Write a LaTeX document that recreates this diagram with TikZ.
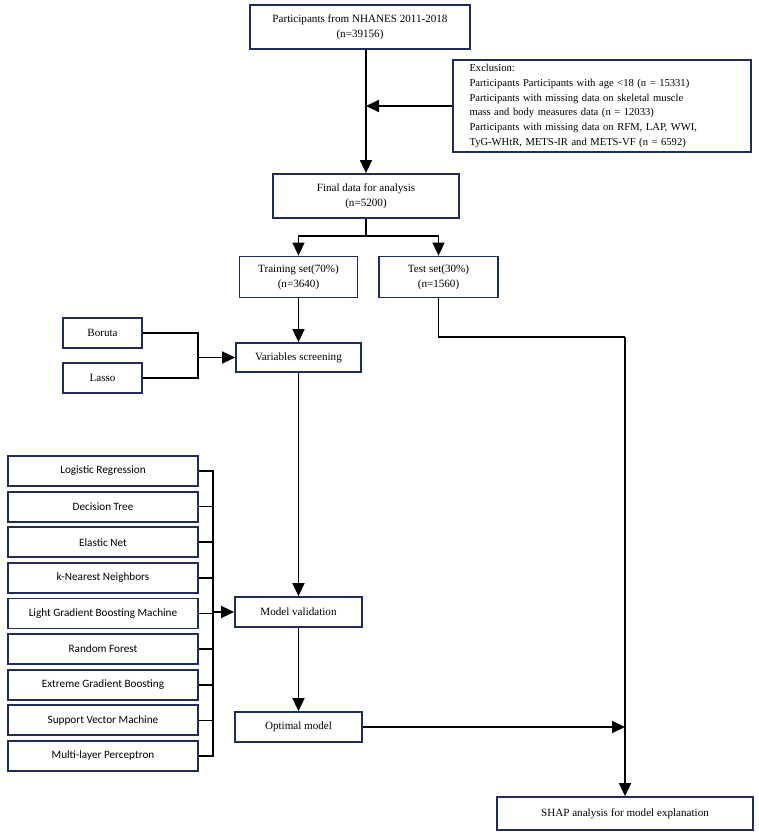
\documentclass[tikz,border=0pt]{standalone}
\usepackage{fontspec}
\setmainfont{Liberation Serif}
\newfontfamily\calib{Carlito}
\usetikzlibrary{arrows.meta}
\definecolor{navy}{HTML}{1F2D5C}
\begin{document}
\begin{tikzpicture}[x=1pt,y=-1pt,
 box/.style={draw=navy,line width=1.8pt,fill=white,inner sep=0pt,align=center,font=\fontsize{11.1}{15}\selectfont},
 lbox/.style={box,font=\calib\fontsize{11.2}{13}\selectfont,minimum width=190pt,minimum height=30pt},
 conn/.style={line width=1.7pt,black},
 arr/.style={conn,-{Triangle[length=13pt,width=12pt]}}]
\useasboundingbox (0,0) rectangle (759,835);
\node[box,minimum width=220pt,minimum height=44pt] (top) at (360,27) {Participants from NHANES 2011-2018\\(n=39156)};
\node[box,minimum width=298pt,minimum height=92pt,text width=265pt,align=left,font=\fontsize{10.6}{14.7}\selectfont] (excl) at (602,106) {Exclusion:\\Participants Participants with age <18 (n = 15331)\\Participants with missing data on skeletal muscle\\mass and body measures data (n = 12033)\\Participants with missing data on RFM, LAP, WWI,\\TyG-WHtR, METS-IR and METS-VF (n = 6592)};
\node[box,minimum width=186pt,minimum height=44pt] (final) at (366,196) {Final data for analysis\\(n=5200)};
\node[box,minimum width=118pt,minimum height=41pt] (train) at (298.5,277) {Training set(70\%)\\(n=3640)};
\node[box,minimum width=119pt,minimum height=41pt] (test) at (438.5,277) {Test set(30\%)\\(n=1560)};
\node[box,minimum width=125pt,minimum height=29pt] (var) at (298.5,357.5) {Variables screening};
\node[box,minimum width=79pt,minimum height=30pt] (boruta) at (102.5,333) {Boruta};
\node[box,minimum width=79pt,minimum height=30pt] (lasso) at (102.5,378) {Lasso};
\node[box,minimum width=127pt,minimum height=30pt] (mv) at (298.5,612) {Model validation};
\node[box,minimum width=127pt,minimum height=30pt] (opt) at (298.5,727) {Optimal model};
\node[box,minimum width=256pt,minimum height=33pt] (shap) at (625,813.5) {SHAP analysis for model explanation};
\foreach \t [count=\i from 0] in {Logistic Regression,Decision Tree,Elastic Net,k-Nearest Neighbors,Light Gradient Boosting Machine,Random Forest,Extreme Gradient Boosting,Support Vector Machine,Multi-layer Perceptron}
  \node[lbox] (L\i) at (103,{471+35.625*\i}) {\t};
% connectors
\draw[arr] (final.north |- top.south) -- (final.north);
\coordinate (j1) at (366,106);
\draw[arr] (excl.west) -- (j1);
\draw[conn] (final.south) -- ++(0,17) coordinate (s1);
\draw[arr] (s1) -| (train.north);
\draw[arr] (s1) -| (test.north);
\coordinate (t1) at (625,337);
\draw[conn] (test.south) |- (t1);
\draw[arr] (t1) -- (shap.north);
\draw[arr] (train.south) -- (var.north);
\coordinate (b1) at (198,357.5);
\draw[conn] (boruta.east) -| (b1);
\draw[conn] (lasso.east) -| (b1);
\draw[arr] (b1) -- (var.west);
\draw[arr] (var.south) -- (mv.north);
\draw[arr] (mv.south) -- (opt.north);
\draw[arr] (opt.east) -- (opt.east -| shap.north);
\coordinate (m1) at (213,612);
\foreach \i in {0,...,8} \draw[conn] (L\i.east) -| (m1);
\draw[arr] (m1) -- (mv.west);
\end{tikzpicture}
\end{document}
